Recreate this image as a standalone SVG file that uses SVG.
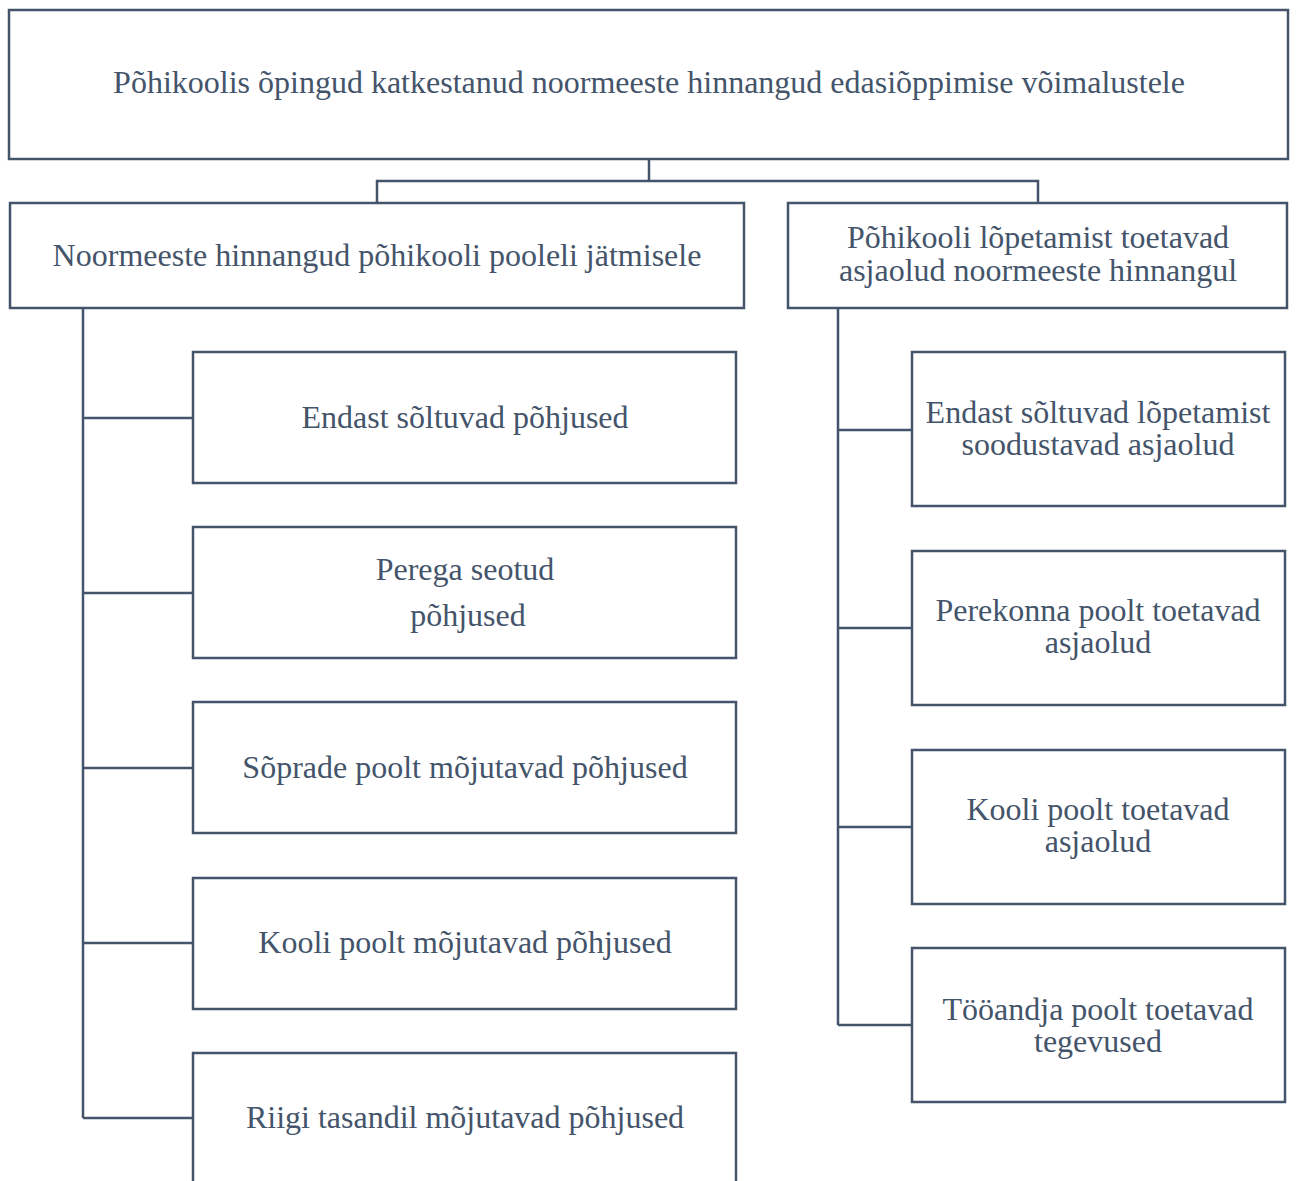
<svg xmlns="http://www.w3.org/2000/svg" width="1296" height="1181" viewBox="0 0 1296 1181">
<style>
.box{fill:#fff;stroke:#44546A;stroke-width:2.5}
.ln{fill:none;stroke:#44546A;stroke-width:2.5}
text{font-family:"Liberation Serif","Times New Roman",serif;font-size:32px;fill:#44546A;text-anchor:middle}
</style>
<rect width="1296" height="1181" fill="#fff"/>
<g id="connectors">
<path class="ln" d="M649,159 V181 M377,203 V181 H1038 V203"/>
<path class="ln" d="M83,308 V1118 M83,418 H193 M83,593 H193 M83,768 H193 M83,943 H193 M83,1118 H193"/>
<path class="ln" d="M838,308 V1025 M838,430 H912 M838,628 H912 M838,827 H912 M838,1025 H912"/>
</g>
<g id="root"><rect class="box" x="9" y="10" width="1279" height="149"/><text x="649" y="93">Põhikoolis õpingud katkestanud noormeeste hinnangud edasiõppimise võimalustele</text></g>
<g id="left"><rect class="box" x="10" y="203" width="734" height="105"/><text x="377" y="266">Noormeeste hinnangud põhikooli pooleli jätmisele</text></g>
<g id="right"><rect class="box" x="788" y="203" width="499" height="105"/><text x="1038" y="248">Põhikooli lõpetamist toetavad</text><text x="1038" y="281">asjaolud noormeeste hinnangul</text></g>
<g id="l1"><rect class="box" x="193" y="352" width="543" height="131"/><text x="465" y="428">Endast sõltuvad põhjused</text></g>
<g id="l2"><rect class="box" x="193" y="527" width="543" height="131"/><text x="465" y="580">Perega seotud</text><text x="468" y="626">põhjused</text></g>
<g id="l3"><rect class="box" x="193" y="702" width="543" height="131"/><text x="465" y="778">Sõprade poolt mõjutavad põhjused</text></g>
<g id="l4"><rect class="box" x="193" y="878" width="543" height="131"/><text x="465" y="953">Kooli poolt mõjutavad põhjused</text></g>
<g id="l5"><rect class="box" x="193" y="1053" width="543" height="140"/><text x="465" y="1128">Riigi tasandil mõjutavad põhjused</text></g>
<g id="r1"><rect class="box" x="912" y="352" width="373" height="154"/><text x="1098" y="423">Endast sõltuvad lõpetamist</text><text x="1098" y="455">soodustavad asjaolud</text></g>
<g id="r2"><rect class="box" x="912" y="551" width="373" height="154"/><text x="1098" y="621">Perekonna poolt toetavad</text><text x="1098" y="653">asjaolud</text></g>
<g id="r3"><rect class="box" x="912" y="750" width="373" height="154"/><text x="1098" y="820">Kooli poolt toetavad</text><text x="1098" y="852">asjaolud</text></g>
<g id="r4"><rect class="box" x="912" y="948" width="373" height="154"/><text x="1098" y="1020">Tööandja poolt toetavad</text><text x="1098" y="1052">tegevused</text></g>
</svg>
